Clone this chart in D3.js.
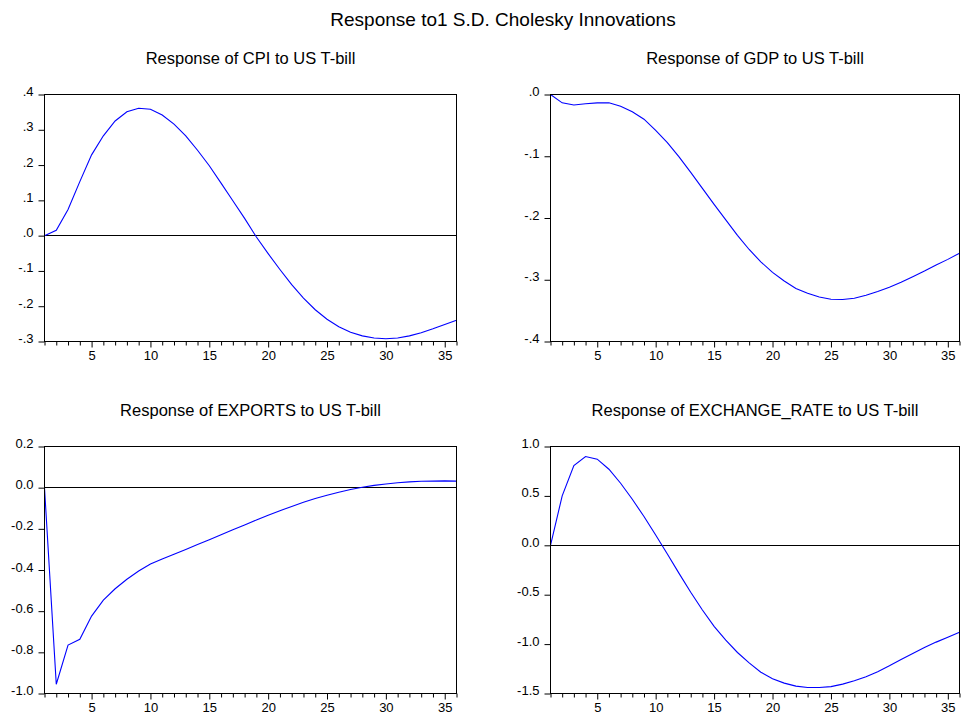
<!DOCTYPE html>
<html><head><meta charset="utf-8">
<script src="https://cdn.jsdelivr.net/npm/d3@7"></script>
<style>
html,body{margin:0;padding:0;background:#fff;}
text{font-family:"Liberation Sans",Arial,sans-serif;fill:#000;}
</style></head>
<body><svg id="c" width="961" height="715"></svg>
<script>
const periods = d3.range(1, 37);
const mainTitle = "Response to1 S.D. Cholesky Innovations";
const panelTitles = ["Response of CPI to US T-bill","Response of GDP to US T-bill","Response of EXPORTS to US T-bill","Response of EXCHANGE_RATE to US T-bill"];
const cpi = [0,0.015,0.074,0.153,0.229,0.283,0.325,0.351,0.361,0.358,0.342,0.316,0.283,0.242,0.198,0.149,0.099,0.049,-0.004,-0.051,-0.096,-0.139,-0.177,-0.210,-0.237,-0.258,-0.274,-0.284,-0.290,-0.292,-0.290,-0.284,-0.275,-0.264,-0.252,-0.240];
const gdp = [0,-0.0135,-0.017,-0.015,-0.0135,-0.0135,-0.019,-0.028,-0.040,-0.058,-0.078,-0.101,-0.126,-0.152,-0.178,-0.203,-0.228,-0.251,-0.271,-0.288,-0.302,-0.314,-0.322,-0.328,-0.3315,-0.332,-0.330,-0.325,-0.319,-0.312,-0.304,-0.295,-0.286,-0.276,-0.267,-0.257];
const exportsR = [0,-0.955,-0.765,-0.737,-0.624,-0.546,-0.491,-0.445,-0.405,-0.371,-0.347,-0.323,-0.300,-0.276,-0.253,-0.229,-0.205,-0.181,-0.157,-0.134,-0.112,-0.091,-0.071,-0.053,-0.037,-0.022,-0.009,0.002,0.011,0.018,0.024,0.028,0.031,0.032,0.033,0.032];
const exch = [0,0.50,0.807,0.899,0.872,0.770,0.628,0.466,0.291,0.105,-0.088,-0.284,-0.476,-0.655,-0.82,-0.96,-1.085,-1.19,-1.285,-1.35,-1.395,-1.425,-1.44,-1.44,-1.43,-1.405,-1.37,-1.33,-1.28,-1.22,-1.155,-1.095,-1.035,-0.98,-0.93,-0.881];
const yTicks1 = [0.4,0.3,0.2,0.1,0,-0.1,-0.2,-0.3];
const yLabels1 = [".4",".3",".2",".1",".0","-.1","-.2","-.3"];
const yTicks2 = [0,-0.1,-0.2,-0.3,-0.4];
const yLabels2 = [".0","-.1","-.2","-.3","-.4"];
const yTicks3 = [0.2,0,-0.2,-0.4,-0.6,-0.8,-1.0];
const yLabels3 = ["0.2","0.0","-0.2","-0.4","-0.6","-0.8","-1.0"];
const yTicks4 = [1.0,0.5,0,-0.5,-1.0,-1.5];
const yLabels4 = ["1.0","0.5","0.0","-0.5","-1.0","-1.5"];
const xLabelTicks = [5,10,15,20,25,30,35];

const svg = d3.select("#c");
svg.append("text").attr("x",503).attr("y",26).attr("text-anchor","middle")
  .style("font-size","19px").text(mainTitle);

const panels = [
  {title:panelTitles[0], data:cpi, ticks:yTicks1, labels:yLabels1, x0:44.5, x1:456.5, y0:94.5, y1:341.5},
  {title:panelTitles[1], data:gdp, ticks:yTicks2, labels:yLabels2, x0:550.5, x1:959.5, y0:94.5, y1:341.5},
  {title:panelTitles[2], data:exportsR, ticks:yTicks3, labels:yLabels3, x0:44.5, x1:456.5, y0:446.5, y1:693.5},
  {title:panelTitles[3], data:exch, ticks:yTicks4, labels:yLabels4, x0:550.5, x1:959.5, y0:446.5, y1:693.5}
];

panels.forEach(p => {
  const x = d3.scaleLinear().domain([1,36]).range([p.x0,p.x1]);
  const y = d3.scaleLinear().domain([d3.min(p.ticks), d3.max(p.ticks)]).range([p.y1,p.y0]);
  const g = svg.append("g");
  g.append("text").attr("x",(p.x0+p.x1)/2).attr("y",p.y0-31).attr("text-anchor","middle")
    .style("font-size","16.5px").text(p.title);
  // zero line
  const zy = Math.floor(y(0)) + 0.5;
  g.append("line").attr("x1",p.x0).attr("x2",p.x1).attr("y1",zy).attr("y2",zy)
    .attr("stroke","#000").attr("stroke-width",1);
  // series
  g.append("path").datum(p.data)
    .attr("d", d3.line().x((d,i)=>x(periods[i])).y(d=>y(d)))
    .attr("fill","none").attr("stroke","#0000ff").attr("stroke-width",1.1);
  // frame
  g.append("rect").attr("x",p.x0).attr("y",p.y0).attr("width",p.x1-p.x0).attr("height",p.y1-p.y0)
    .attr("fill","none").attr("stroke","#000").attr("stroke-width",1);
  // y axis
  const ya = g.append("g").attr("transform",`translate(${p.x0},0)`)
    .call(d3.axisLeft(y).tickValues(p.ticks).tickSize(6).tickPadding(5).tickFormat((d,i)=>p.labels[i]));
  ya.select(".domain").remove();
  ya.selectAll("text").attr("dy",null).attr("y",1).style("font-size","13px").attr("fill","#000");
  ya.selectAll("line").attr("stroke","#000");
  // x axis
  const xa = g.append("g").attr("transform",`translate(0,${p.y1})`)
    .call(d3.axisBottom(x).tickValues(periods).tickSize(4).tickFormat(d => xLabelTicks.includes(d) ? d : ""));
  xa.select(".domain").remove();
  xa.selectAll(".tick").filter(d=>xLabelTicks.includes(d)).select("line").attr("y2",6);
  xa.selectAll("text").attr("dy",null).attr("y",18.5).style("font-size","13px").attr("fill","#000");
  xa.selectAll("line").attr("stroke","#000");
});
</script></body></html>
